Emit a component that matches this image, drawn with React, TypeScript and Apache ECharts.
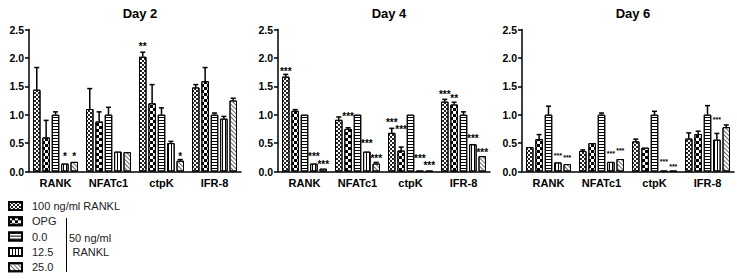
import React, { useEffect, useRef } from 'react';
import * as echarts from 'echarts';

const categories = ['RANK', 'NFATc1', 'ctpK', 'IFR-8'];
const seriesNames = ['100 ng/ml RANKL', 'OPG', '0.0', '12.5', '25.0'];
const dayTitles = ['Day 2', 'Day 4', 'Day 6'];
const yTicks = [0, 0.5, 1.0, 1.5, 2.0, 2.5];

// values[series][category]
const day2Values = [
  [1.44, 1.10, 2.02, 1.48],
  [0.60, 0.88, 1.20, 1.59],
  [1.00, 1.00, 1.00, 1.00],
  [0.14, 0.35, 0.50, 0.93],
  [0.17, 0.34, 0.19, 1.25],
];
const day2ErrorTops = [
  [1.83, 1.46, 2.10, 1.53],
  [0.90, 1.05, 1.53, 1.83],
  [1.05, 1.13, 1.12, 1.03],
  [0.15, 0.36, 0.53, 0.97],
  [0.18, 0.35, 0.21, 1.29],
];
const day4Values = [
  [1.67, 0.91, 0.68, 1.23],
  [1.07, 0.75, 0.37, 1.18],
  [1.00, 1.00, 1.00, 1.00],
  [0.14, 0.35, 0.01, 0.48],
  [0.05, 0.14, 0.01, 0.27],
];
const day4ErrorTops = [
  [1.71, 0.96, 0.76, 1.27],
  [1.09, 0.77, 0.43, 1.22],
  [1.01, 1.01, 1.01, 1.05],
  [0.15, 0.35, 0.01, 0.49],
  [0.06, 0.16, 0.01, 0.28],
];
const day6Values = [
  [0.43, 0.36, 0.53, 0.58],
  [0.57, 0.50, 0.42, 0.66],
  [1.00, 1.00, 1.00, 1.00],
  [0.16, 0.17, 0.01, 0.56],
  [0.13, 0.22, 0.01, 0.78],
];
const day6ErrorTops = [
  [0.43, 0.38, 0.57, 0.68],
  [0.65, 0.50, 0.42, 0.71],
  [1.15, 1.03, 1.06, 1.16],
  [0.17, 0.18, 0.01, 0.67],
  [0.14, 0.23, 0.01, 0.82],
];

// significance marks: category index, bar (series) index, mark, height
const day2Marks = [
  { cat: 0, bar: 3, mark: '*', y: 0.31 },
  { cat: 0, bar: 4, mark: '*', y: 0.31 },
  { cat: 2, bar: 0, mark: '**', y: 2.25 },
  { cat: 2, bar: 4, mark: '*', y: 0.31 },
];
const day4Marks = [
  { cat: 0, bar: 0, mark: '***', y: 1.82 },
  { cat: 0, bar: 3, mark: '***', y: 0.32 },
  { cat: 0, bar: 4, mark: '***', y: 0.18 },
  { cat: 1, bar: 1, mark: '***', y: 1.02 },
  { cat: 1, bar: 3, mark: '***', y: 0.54 },
  { cat: 1, bar: 4, mark: '***', y: 0.29 },
  { cat: 2, bar: 0, mark: '***', y: 0.92 },
  { cat: 2, bar: 1, mark: '***', y: 0.79 },
  { cat: 2, bar: 3, mark: '***', y: 0.28 },
  { cat: 2, bar: 4, mark: '***', y: 0.16 },
  { cat: 3, bar: 0, mark: '***', y: 1.41 },
  { cat: 3, bar: 1, mark: '**', y: 1.34 },
  { cat: 3, bar: 3, mark: '***', y: 0.63 },
  { cat: 3, bar: 4, mark: '***', y: 0.39 },
];
const day6Marks = [
  { cat: 0, bar: 3, mark: '***', y: 0.32 },
  { cat: 0, bar: 4, mark: '***', y: 0.29 },
  { cat: 1, bar: 3, mark: '***', y: 0.35 },
  { cat: 1, bar: 4, mark: '***', y: 0.41 },
  { cat: 2, bar: 3, mark: '***', y: 0.22 },
  { cat: 2, bar: 4, mark: '***', y: 0.13 },
  { cat: 3, bar: 3, mark: '***', y: 0.96 },
];

const panels = [
  { values: day2Values, errs: day2ErrorTops, marks: day2Marks, left: 29, markSize: 10 },
  { values: day4Values, errs: day4ErrorTops, marks: day4Marks, left: 278, markSize: 10 },
  { values: day6Values, errs: day6ErrorTops, marks: day6Marks, left: 522, markSize: 7 },
];

const FONT = 'Liberation Sans, Arial, Helvetica, sans-serif';
const BAR_W = 7.5;
const STEP = BAR_W * 1.25;

const decals: any[] = [
  { symbol: 'rect', symbolSize: 1, dashArrayX: [[1.5, 1.5], [0, 1.5, 1.5, 0]], dashArrayY: [1.5, 0], color: '#222', backgroundColor: '#fff' },
  { symbol: 'rect', symbolSize: 1, dashArrayX: [[3, 3], [0, 3, 3, 0]], dashArrayY: [3, 0], color: '#000', backgroundColor: '#fff' },
  { symbol: 'rect', symbolSize: 1, dashArrayX: [1, 0], dashArrayY: [1, 2], color: '#000', backgroundColor: '#fff' },
  { symbol: 'rect', symbolSize: 1, dashArrayX: [1, 2], dashArrayY: [1, 0], color: '#000', backgroundColor: '#fff' },
  { symbol: 'rect', symbolSize: 1, dashArrayX: [1, 0], dashArrayY: [1, 1.5], rotation: Math.PI / 4, color: '#666', backgroundColor: '#fff' },
];

function buildOption() {
  const grid: any[] = [];
  const xAxis: any[] = [];
  const yAxis: any[] = [];
  const series: any[] = [];
  const title: any[] = [];

  panels.forEach((p, gi) => {
    grid.push({ left: p.left, top: 29.5, width: 212, height: 142, containLabel: false });
    title.push({
      text: dayTitles[gi],
      left: p.left + 106,
      top: 2,
      textAlign: 'center',
      textStyle: { fontFamily: FONT, fontSize: 13, fontWeight: 'bold', color: '#000' },
    });
    xAxis.push({
      type: 'category',
      gridIndex: gi,
      data: categories,
      axisLine: { lineStyle: { color: '#000', width: 1.5 } },
      axisTick: { alignWithLabel: true, length: 3, lineStyle: { color: '#000', width: 1.5 } },
      axisLabel: { fontFamily: FONT, fontSize: 11, fontWeight: 'bold', color: '#000', margin: 6 },
      splitLine: { show: false },
    });
    yAxis.push({
      type: 'value',
      gridIndex: gi,
      min: yTicks[0],
      max: yTicks[yTicks.length - 1],
      interval: 0.5,
      axisLine: { show: true, lineStyle: { color: '#000', width: 1.5 } },
      axisTick: { show: true, length: 4, lineStyle: { color: '#000', width: 1.5 } },
      axisLabel: {
        fontFamily: FONT, fontSize: 10.5, fontWeight: 'bold', color: '#000', margin: 5,
        formatter: (v: number) => v.toFixed(1),
      },
      splitLine: { show: false },
    });
    p.values.forEach((vals, si) => {
      series.push({
        type: 'bar',
        name: seriesNames[si],
        xAxisIndex: gi,
        yAxisIndex: gi,
        data: vals,
        barWidth: BAR_W,
        barGap: '25%',
        itemStyle: { color: '#fff', borderColor: '#000', borderWidth: 1, decal: decals[si] },
        emphasis: { disabled: true },
      });
    });
    const errData: number[][] = [];
    p.values.forEach((vals, si) => {
      vals.forEach((v, ci) => errData.push([ci, v, p.errs[si][ci], si]));
    });
    series.push({
      type: 'custom',
      xAxisIndex: gi,
      yAxisIndex: gi,
      data: errData,
      encode: { x: 0, y: 1 },
      z: 5,
      silent: true,
      renderItem: (params: any, api: any) => {
        const cat = api.value(0);
        const v = api.value(1);
        const e = api.value(2);
        const si = api.value(3);
        const p0 = api.coord([cat, v]);
        const p1 = api.coord([cat, e]);
        if (p0[1] - p1[1] < 1) return { type: 'group', children: [] };
        const x = p0[0] + (si - 2) * STEP;
        return {
          type: 'group',
          children: [
            { type: 'line', shape: { x1: x, y1: p0[1], x2: x, y2: p1[1] }, style: { stroke: '#000', lineWidth: 1.5 } },
            { type: 'line', shape: { x1: x - 2.5, y1: p1[1], x2: x + 2.5, y2: p1[1] }, style: { stroke: '#000', lineWidth: 1.5 } },
          ],
        };
      },
    });
    const marks = p.marks;
    series.push({
      type: 'custom',
      xAxisIndex: gi,
      yAxisIndex: gi,
      data: marks.map((m) => [m.cat, m.y, m.bar]),
      encode: { x: 0, y: 1 },
      z: 6,
      silent: true,
      renderItem: (params: any, api: any) => {
        const m = marks[params.dataIndex];
        const pt = api.coord([m.cat, m.y]);
        const x = pt[0] + (m.bar - 2) * STEP;
        return {
          type: 'text',
          x,
          y: pt[1] + p.markSize * 0.3,
          style: {
            text: m.mark,
            fill: '#000',
            font: `bold ${p.markSize}px ${FONT}`,
            align: 'center',
            verticalAlign: 'middle',
          },
        };
      },
    });
  });

  return {
    animation: false,
    backgroundColor: '#fff',
    title,
    grid,
    xAxis,
    yAxis,
    series,
    legend: {
      data: seriesNames,
      orient: 'vertical',
      left: 8,
      top: 200.5,
      height: 90,
      padding: 0,
      icon: 'rect',
      itemWidth: 13,
      itemHeight: 8,
      itemGap: 4.3,
      selectedMode: false,
      textStyle: { fontFamily: FONT, fontSize: 11, color: '#222', padding: [0, 0, 0, 5] },
    },
    graphic: [
      { type: 'line', shape: { x1: 66.5, y1: 218, x2: 66.5, y2: 272 }, style: { stroke: '#000', lineWidth: 1 } },
      { type: 'text', x: 69, y: 238, style: { text: '50 ng/ml', fill: '#222', font: `11px ${FONT}`, verticalAlign: 'middle' } },
      { type: 'text', x: 72.5, y: 252, style: { text: 'RANKL', fill: '#222', font: `11px ${FONT}`, verticalAlign: 'middle' } },
    ],
  };
}

export default function App() {
  const ref = useRef<HTMLDivElement>(null);
  useEffect(() => {
    document.body.style.margin = '0';
    if (!ref.current) return;
    const chart = echarts.init(ref.current, undefined, { renderer: 'svg' });
    chart.setOption(buildOption() as any);
    return () => chart.dispose();
  }, []);
  return <div ref={ref} style={{ width: 737, height: 279 }} />;
}
